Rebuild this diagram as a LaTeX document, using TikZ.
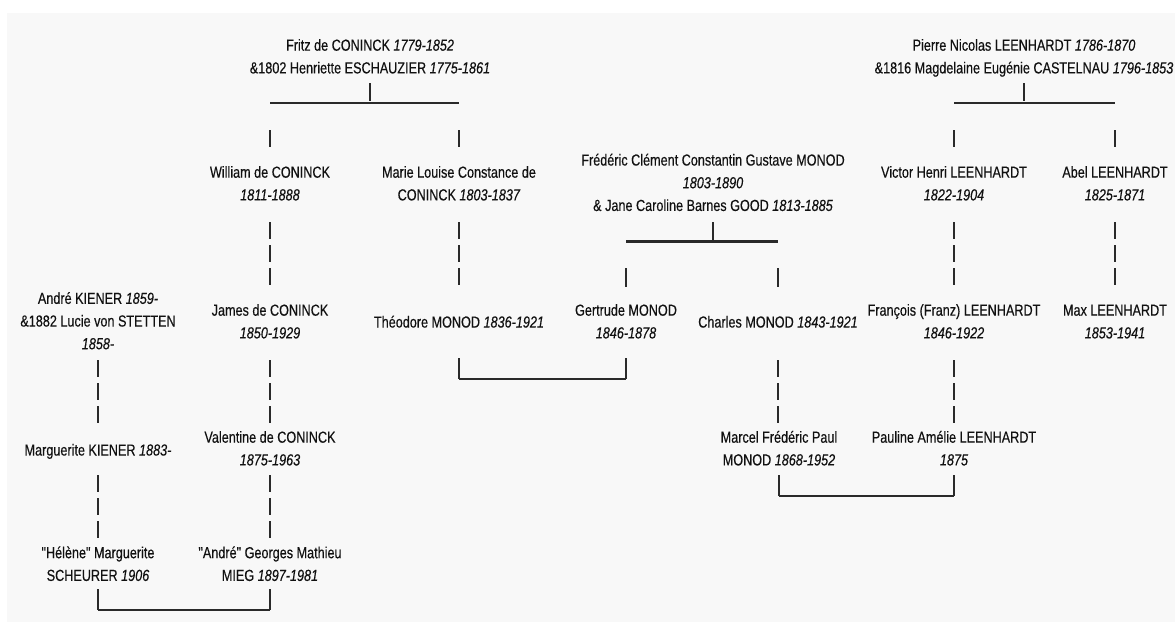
\documentclass[tikz,border=0pt]{standalone}
\usepackage{fontspec}
\setmainfont{Liberation Sans}[FakeStretch=0.79,FakeBold=0.35,Ligatures=TeXOff]
\definecolor{bg}{HTML}{F8F8F8}
\definecolor{ink}{HTML}{111111}
\definecolor{ln}{HTML}{2A2A2A}
\newcommand\yr[1]{\textit{#1}}
\newcommand\dq{\symbol{34}}
\begin{document}
\begin{tikzpicture}[x=1pt,y=-1pt,
  person/.style={align=center, inner sep=0pt, font=\fontsize{16}{22.7}\selectfont, text=ink},
  stub/.style={draw=ln, line width=1.3pt},
  bar/.style={draw=ln, line width=2.2pt},
  desc/.style={draw=ln, line width=1.3pt, dash pattern=on 17pt off 6pt}]
\useasboundingbox (0,0) rectangle (1175,622);
\fill[white] (0,0) rectangle (1175,622);
\fill[bg] (7,13) rectangle (1175,622);

% generation 1
\node[person] (fritz) at (370,57.5) {\strut Fritz de CONINCK \yr{1779-1852}\\\strut \&1802 Henriette ESCHAUZIER \yr{1775-1861}};
\node[person] (pierre) at (1024,57.5) {\strut Pierre Nicolas LEENHARDT \yr{1786-1870}\\\strut \&1816 Magdelaine Eugénie CASTELNAU \yr{1796-1853}};

% generation 2
\node[person] (william) at (270,184.5) {\strut William de CONINCK\\\strut \yr{1811-1888}};
\node[person] (marie) at (459,184.5) {\strut Marie Louise Constance de\\\strut CONINCK \yr{1803-1837}};
\node[person] (frederic) at (713,183.7) {\strut Frédéric Clément Constantin Gustave MONOD\\\strut \yr{1803-1890}\\\strut \& Jane Caroline Barnes GOOD \yr{1813-1885}};
\node[person] (victor) at (954,184.5) {\strut Victor Henri LEENHARDT\\\strut \yr{1822-1904}};
\node[person] (abel) at (1115,184.5) {\strut Abel LEENHARDT\\\strut \yr{1825-1871}};

% generation 3
\node[person] (andre) at (98,322) {\strut André KIENER \yr{1859-}\\\strut \&1882 Lucie von STETTEN\\\strut \yr{1858-}};
\node[person] (james) at (270,322.5) {\strut James de CONINCK\\\strut \yr{1850-1929}};
\node[person] (theodore) at (459,323) {\strut Théodore MONOD \yr{1836-1921}};
\node[person] (gertrude) at (626,322.5) {\strut Gertrude MONOD\\\strut \yr{1846-1878}};
\node[person] (charles) at (778,323) {\strut Charles MONOD \yr{1843-1921}};
\node[person] (francois) at (954,322.5) {\strut François (Franz) LEENHARDT\\\strut \yr{1846-1922}};
\node[person] (max) at (1115,322.5) {\strut Max LEENHARDT\\\strut \yr{1853-1941}};

% generation 4
\node[person] (marguerite) at (98,451) {\strut Marguerite KIENER \yr{1883-}};
\node[person] (valentine) at (270,449.5) {\strut Valentine de CONINCK\\\strut \yr{1875-1963}};
\node[person] (marcel) at (779,449.5) {\strut Marcel Frédéric Paul\\\strut MONOD \yr{1868-1952}};
\node[person] (pauline) at (954,449.5) {\strut Pauline Amélie LEENHARDT\\\strut \yr{1875}};

% generation 5
\node[person] (helene) at (98,565) {\strut \dq Hélène\dq{} Marguerite\\\strut SCHEURER \yr{1906}};
\node[person] (andrem) at (270,565) {\strut \dq André\dq{} Georges Mathieu\\\strut MIEG \yr{1897-1981}};

% Fritz family
\draw[stub] (fritz.south |- 0,83) -- (fritz.south |- 0,101);
\draw[bar] (william |- 0,103) -- (marie |- 0,103);
\draw[stub] (william |- 0,130) -- (william |- 0,147);
\draw[stub] (marie |- 0,130) -- (marie |- 0,147);

% Pierre family
\draw[stub] (pierre.south |- 0,83) -- (pierre.south |- 0,101);
\draw[bar] (victor |- 0,103) -- (abel |- 0,103);
\draw[stub] (victor |- 0,130) -- (victor |- 0,147);
\draw[stub] (abel |- 0,130) -- (abel |- 0,147);

% Frederic family
\draw[stub] (frederic.south |- 0,222) -- (frederic.south |- 0,240);
\draw[bar] (gertrude |- 0,241.5) -- (charles |- 0,241.5);
\draw[stub] (gertrude |- 0,268) -- (gertrude |- 0,287);
\draw[stub] (charles |- 0,268) -- (charles |- 0,287);

% descent lines
\draw[desc] (william |- 0,222) -- (william |- 0,287);
\draw[desc] (marie |- 0,222) -- (marie |- 0,287);
\draw[desc] (victor |- 0,222) -- (victor |- 0,287);
\draw[desc] (abel |- 0,222) -- (abel |- 0,287);
\draw[desc] (andre |- 0,360) -- (andre |- 0,423);
\draw[desc] (james |- 0,360) -- (james |- 0,423);
\draw[desc] (charles |- 0,360) -- (charles |- 0,423);
\draw[desc] (francois |- 0,360) -- (francois |- 0,423);
\draw[desc] (marguerite |- 0,475) -- (marguerite |- 0,538);
\draw[desc] (valentine |- 0,475) -- (valentine |- 0,538);

% marriages
\draw[stub] (theodore |- 0,358) -- (theodore |- 0,379);
\draw[stub] (gertrude |- 0,358) -- (gertrude |- 0,379);
\draw[bar] (theodore |- 0,379) -- (gertrude |- 0,379);

\draw[stub] (marcel |- 0,475) -- (marcel |- 0,496);
\draw[stub] (pauline |- 0,475) -- (pauline |- 0,496);
\draw[bar] (marcel |- 0,496) -- (pauline |- 0,496);

\draw[stub] (helene |- 0,589) -- (helene |- 0,610);
\draw[stub] (andrem |- 0,589) -- (andrem |- 0,610);
\draw[bar] (helene |- 0,610) -- (andrem |- 0,610);
\end{tikzpicture}
\end{document}
